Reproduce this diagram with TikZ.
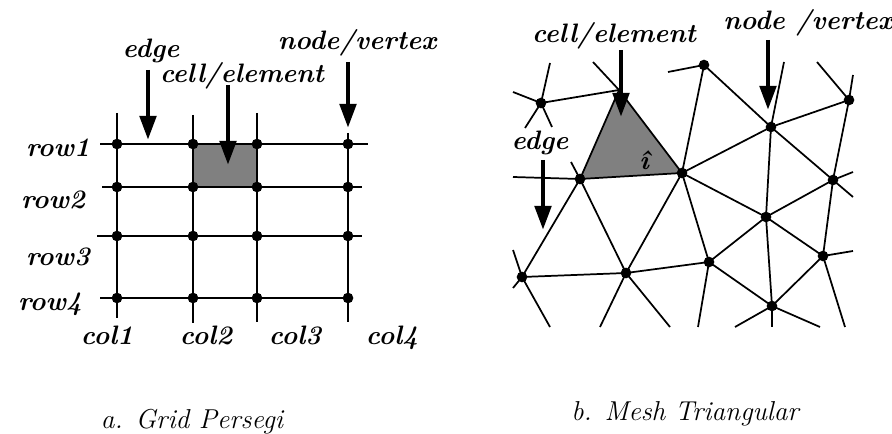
\documentclass[tikz,border=0pt]{standalone}
\usepackage{fontspec}
\usetikzlibrary{arrows.meta}

\tikzset{
  lbl/.style={font=\fontsize{20}{24}\selectfont\bfseries\itshape, inner sep=0pt, anchor=base},
  caption/.style={font=\fontsize{20.5}{25}\selectfont\itshape, inner sep=0pt, anchor=base},
  gridline/.style={line width=1.6pt},
  meshline/.style={line width=1.3pt},
  pointer/.style={line width=3.6pt, -{Triangle[length=18pt,width=12pt]}},
  vtx/.style={circle, fill=black, inner sep=0pt, minimum size=8pt},
}

\begin{document}
\begin{tikzpicture}[x=0.75pt, y=-0.75pt]
    \useasboundingbox (0,0) rectangle (892,434);

    % Grid Persegi
    \begin{scope}
        \fill[black!50] (193,144) rectangle (257,187);
        \foreach \y/\xa/\xb in {144/100/368, 187/102/362, 236/97/362, 298/100/348}
            \draw[gridline] (\xa,\y) -- (\xb,\y);
        \foreach \x/\ya/\yb in {117/113/318, 193/115/323, 257/113/322, 348/133/322}
            \draw[gridline] (\x,\ya) -- (\x,\yb);
        \foreach \x [count=\c] in {117,193,257,348} {
            \foreach \y [count=\r] in {144,187,236,298}
                \node[vtx] (g\c\r) at (\x,\y) {};
        }

        % row and column labels
        \foreach \x/\y [count=\r] in {58/157, 53/209, 58/266, 50/311}
            \node[lbl] (row\r) at (\x,\y) {row\r};
        \foreach \x [count=\c] in {107,206,295,392}
            \node[lbl] (col\c) at (\x,345) {col\c};

        % pointers
        \node[lbl] (gedge) at (151,58) {edge};
        \node[lbl] (gcell) at (242,83) {cell/element};
        \node[lbl] (gnode) at (357,50) {node/vertex};
        \coordinate (gedgefrom) at (148,70);
        \coordinate (gedgeto) at (148,140);
        \coordinate (gcellfrom) at (228,85);
        \coordinate (gcellto) at (228,165);
        \coordinate (gnodefrom) at (348,62);
        \coordinate (gnodeto) at (348,128);
        \draw[pointer] (gedgefrom) -- (gedgeto);
        \draw[pointer] (gcellfrom) -- (gcellto);
        \draw[pointer] (gnodefrom) -- (gnodeto);

        \node[caption] (capa) at (192,428) {a. Grid Persegi};
    \end{scope}

    % Mesh Triangular
    \begin{scope}
        % vertices
        \coordinate (P) at (619,90);
        \foreach \n/\x/\y in {A/541/103, C/704/65, D/771/127, E/849/100,
                F/580/179, G/682/173, H/833/180, I/766/217, J/709/262,
                K/823/256, L/522/277, M/626/273, N/772/306}
            \coordinate (\n) at (\x,\y);

        % shaded cell
        \fill[black!50] (P) -- (F) -- (G) -- cycle;

        % loose ends at the border of the mesh
        \foreach \n/\x/\y in {a1/513/92, a2/550/63, a3/525/128, a4/552/127,
                p1/593/62, c1/668/72, d1/784/62, e1/817/62, e2/853/75,
                h1/853/172, h2/853/197, f1/513/177, f2/571/162,
                l1/513/250, l2/513/288, l3/550/327, m1/600/327, m2/670/327,
                j1/698/327, k1/853/251, k2/845/327,
                n1/735/327, n2/772/327, n3/820/327}
            \coordinate (\n) at (\x,\y);

        % edges
        \foreach \u/\v in {A/P, P/F, P/G, F/G, F/L, F/M, G/C, G/D, G/I, G/J,
                G/M, C/D, D/E, D/H, D/I, E/H, H/I, H/K, I/J, I/K, I/N,
                J/M, J/N, K/N, L/M,
                A/a1, A/a2, A/a3, A/a4, P/p1, C/c1, D/d1, E/e1, E/e2,
                H/h1, H/h2, F/f1, F/f2, L/l1, L/l2, L/l3, M/m1, M/m2,
                J/j1, K/k1, K/k2, N/n1, N/n2, N/n3}
            \draw[meshline] (\u) -- (\v);

        \foreach \n in {A,C,D,E,F,G,H,I,J,K,L,M,N}
            \node[vtx] at (\n) {};

        \node[lbl] (ihat) at (644,170) {\^{\i}};

        % pointers
        \node[lbl] (medge) at (540,150) {edge};
        \node[lbl] (mcell) at (614,43) {cell/element};
        \node[lbl] (mnode) at (808,30) {node /vertex};
        \coordinate (medgefrom) at (543,160);
        \coordinate (medgeto) at (543,230);
        \coordinate (mcellfrom) at (621,50);
        \coordinate (mcellto) at (621,117);
        \coordinate (mnodefrom) at (768,40);
        \coordinate (mnodeto) at (768,110);
        \draw[pointer] (medgefrom) -- (medgeto);
        \draw[pointer] (mcellfrom) -- (mcellto);
        \draw[pointer] (mnodefrom) -- (mnodeto);

        \node[caption] (capb) at (685,421) {b. Mesh Triangular};
    \end{scope}
\end{tikzpicture}
\end{document}
